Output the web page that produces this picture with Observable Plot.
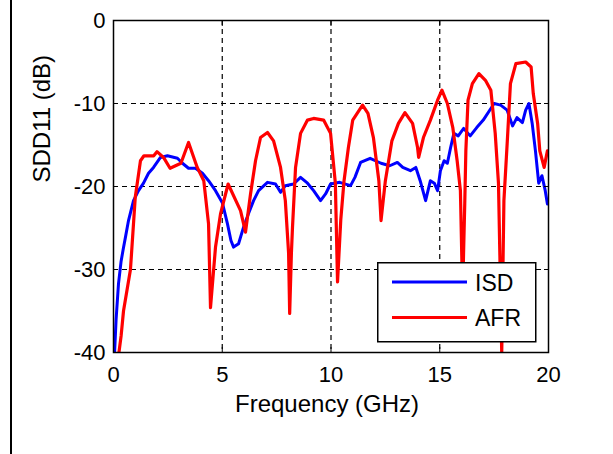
<!DOCTYPE html>
<html>
<head>
<meta charset="utf-8">
<script src="https://cdn.jsdelivr.net/npm/d3@7"></script>
<script src="https://cdn.jsdelivr.net/npm/@observablehq/plot@0.6"></script>
<style>
  html, body { margin: 0; padding: 0; background: white; }
  #wrap { position: relative; width: 613px; height: 454px; overflow: hidden; font-family: "Liberation Sans", Arial, sans-serif; }
  #edge { position: absolute; left: 10px; top: 0; width: 2px; height: 454px; background: #000; }
  #legend { position: absolute; left: 377px; top: 262px; }
</style>
</head>
<body>
<div id="wrap"><div id="edge"></div><div id="chart"></div><div id="legend"></div></div>
<script>
// ---- data ----
const seriesNames = ["ISD", "AFR"];
const seriesColors = ["#0000ff", "#ff0000"];
const xTicks = [0, 5, 10, 15, 20];
const yTicks = [0, -10, -20, -30, -40];
const xGrid = [5, 10, 15];
const yGrid = [-10, -20, -30];
const xLabel = "Frequency (GHz)";
const yLabel = "SDD11 (dB)";

const isdFreq = [0.05,0.12,0.23,0.35,0.45,0.55,0.69,0.92,1.15,1.38,1.61,1.84,2.16,2.48,2.94,3.17,3.45,3.77,4.09,4.37,4.69,5.01,5.24,5.4,5.52,5.75,5.98,6.2,6.44,6.67,7.08,7.45,7.68,7.9,8.28,8.6,8.92,9.2,9.52,9.75,9.98,10.4,10.9,11.1,11.36,11.8,12.3,12.7,13.05,13.3,13.65,13.9,14.1,14.35,14.57,14.75,14.9,15.03,15.2,15.35,15.5,15.65,15.85,16.1,16.4,16.7,17.0,17.35,17.5,17.8,18.1,18.35,18.55,18.8,18.95,19.1,19.25,19.4,19.55,19.7,19.85,19.95];
const isdDb = [-40,-36,-31.7,-29,-27.5,-26.1,-24.1,-21.7,-20.5,-19.6,-18.4,-17.7,-16.5,-16.3,-16.6,-17.2,-17.8,-17.8,-18.4,-19.3,-20.5,-22.0,-24.5,-26.5,-27.3,-26.9,-24.9,-23.3,-21.7,-20.5,-19.5,-19.7,-20.7,-19.9,-19.7,-18.9,-19.6,-20.5,-21.7,-20.9,-19.7,-19.5,-19.9,-18.9,-17.1,-16.6,-17.2,-17.5,-17.1,-17.7,-18.1,-17.7,-19.3,-21.7,-19.3,-19.6,-20.5,-18.1,-16.9,-17.2,-15.3,-13.6,-13.9,-13.0,-13.9,-12.9,-12.0,-10.6,-10.0,-10.2,-10.8,-12.7,-11.7,-12.3,-10.8,-10.0,-12.4,-15.7,-19.6,-18.7,-20.5,-22.1];

const afrFreq = [0.25,0.35,0.46,0.78,1.0,1.24,1.4,1.85,2.0,2.3,2.6,3.1,3.45,3.85,4.15,4.37,4.46,4.69,4.92,5.27,5.84,6.07,6.3,6.53,6.76,7.08,7.36,7.68,7.9,8.05,8.1,8.18,8.23,8.37,8.6,8.92,9.2,9.66,9.98,10.2,10.3,10.45,10.6,10.8,11.0,11.45,11.7,11.95,12.2,12.3,12.5,12.8,13.1,13.4,13.75,13.98,14.03,14.25,14.57,14.9,15.1,15.35,15.6,15.8,15.95,16.05,16.15,16.2,16.3,16.5,16.8,17.1,17.35,17.55,17.7,17.85,17.95,18.1,18.25,18.5,18.95,19.2,19.3,19.5,19.6,19.8,19.95];
const afrDb = [-40,-38,-35,-30,-21.3,-16.9,-16.3,-16.3,-15.8,-16.5,-17.8,-17.2,-14.7,-17.7,-19.3,-24.5,-34.6,-27.3,-23.3,-19.7,-22.9,-25.5,-20.9,-16.9,-14.1,-13.5,-14.5,-17.7,-21.7,-28,-35.3,-28,-24.9,-17.7,-13.6,-12.0,-11.8,-12.0,-13.6,-19.6,-31.5,-24,-19.3,-15.3,-12.0,-10.2,-11.2,-14.1,-19.3,-24.1,-19.3,-14.5,-12.4,-11.1,-12.4,-15.3,-16.5,-14.1,-12.0,-9.6,-8.4,-10.0,-12.9,-16.9,-20.5,-33,-22,-15.7,-9.6,-7.6,-6.4,-7.2,-8.4,-13.6,-19.6,-40,-21.7,-14.8,-7.6,-5.2,-5.0,-5.6,-8.8,-12.4,-15.7,-17.7,-15.7];

const isd = isdFreq.map((f, i) => ({f, db: isdDb[i]}));
const afr = afrFreq.map((f, i) => ({f, db: afrDb[i]}));
const fmt = d => String(d);

const chart = Plot.plot({
  width: 613,
  height: 454,
  marginLeft: 113,
  marginRight: 65,
  marginTop: 20,
  marginBottom: 102,
  style: {fontFamily: "'Liberation Sans', Arial, sans-serif", fontSize: "22px", color: "black", background: "transparent", overflow: "visible"},
  x: {domain: [0, 20]},
  y: {domain: [-40, 0]},
  marks: [
    Plot.gridX(xGrid, {stroke: "black", strokeOpacity: 1, strokeWidth: 1.2, strokeDasharray: "5,4"}),
    Plot.gridY(yGrid, {stroke: "black", strokeOpacity: 1, strokeWidth: 1.2, strokeDasharray: "5,4"}),
    Plot.line(isd, {x: "f", y: "db", stroke: seriesColors[0], strokeWidth: 3, clip: true}),
    Plot.line(afr, {x: "f", y: "db", stroke: seriesColors[1], strokeWidth: 3.2, clip: true}),
    Plot.frame({stroke: "black", strokeWidth: 1.5}),
    Plot.axisX({ticks: xTicks, tickSize: -5, tickPadding: 19, tickFormat: fmt, label: null}),
    Plot.axisX({anchor: "top", ticks: xTicks, tickSize: -5, tickFormat: () => "", label: null}),
    Plot.axisY({ticks: yTicks, tickSize: -5, tickPadding: 13, tickFormat: fmt, label: null}),
    Plot.axisY({anchor: "right", ticks: yTicks, tickSize: -5, tickFormat: () => "", label: null}),
    Plot.text([xLabel], {text: d => d, frameAnchor: "bottom", dy: 59, dx: -4, fontSize: 24, fill: "black"}),
    Plot.text([yLabel], {text: d => d, frameAnchor: "left", rotate: -90, dx: -71, dy: -4, fontSize: 24, fill: "black"})
  ]
});
document.getElementById("chart").appendChild(chart);

// legend (inside plot area, lower right)
const lg = d3.select("#legend").append("svg")
  .attr("width", 160).attr("height", 81)
  .style("display", "block");
lg.append("rect").attr("x", 0.75).attr("y", 0.75).attr("width", 158).attr("height", 79)
  .attr("fill", "white").attr("stroke", "black").attr("stroke-width", 1.5);
seriesNames.forEach((name, i) => {
  const cy = 20 + i * 35.5;
  lg.append("line").attr("x1", 15).attr("x2", 90).attr("y1", cy).attr("y2", cy)
    .attr("stroke", seriesColors[i]).attr("stroke-width", 3);
  lg.append("text").attr("x", 98).attr("y", cy + 8.5).text(name)
    .attr("font-family", "'Liberation Sans', Arial, sans-serif").attr("font-size", 23).attr("fill", "black");
});
</script>
</body>
</html>
